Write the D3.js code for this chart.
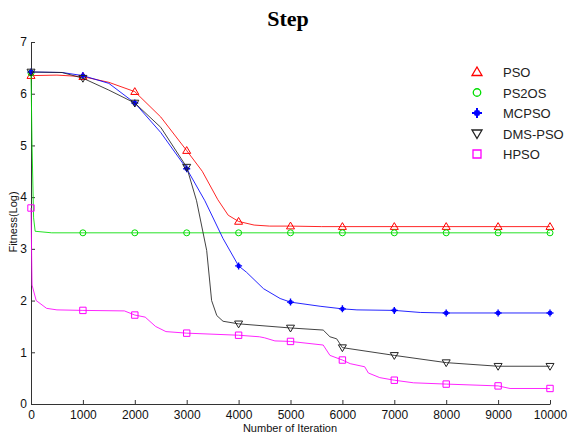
<!DOCTYPE html>
<html>
<head>
<meta charset="utf-8">
<title>Step</title>
<script src="https://d3js.org/d3.v7.min.js"></script>
<style>
  body { margin: 0; background: #fff; }
  text { font-family: "Liberation Sans", Arial, sans-serif; }
</style>
</head>
<body>
<script>

// iteration values (x) and fitness (log) values
var psoX  = [0, 500, 1000, 1500, 2000, 2500, 3000, 3300, 3600, 3800, 4000, 4300, 4600, 5000, 5600, 6000, 7000, 8000, 9000, 10000];
var psoY  = [6.35, 6.36, 6.33, 6.22, 6.04, 5.55, 4.9, 4.5, 3.95, 3.65, 3.53, 3.46, 3.44, 3.44, 3.43, 3.43, 3.43, 3.43, 3.43, 3.43];

var ps2osX = [0, 20, 50, 80, 400, 1000, 2000, 3000, 4000, 5000, 6000, 7000, 8000, 9000, 10000];
var ps2osY = [6.4, 5.0, 3.6, 3.34, 3.31, 3.31, 3.31, 3.31, 3.31, 3.31, 3.31, 3.31, 3.31, 3.31, 3.31];

var mcpsoX = [0, 600, 1000, 1500, 2000, 2500, 3000, 3350, 3700, 4000, 4150, 4480, 4800, 5000, 5570, 6000, 6280, 7000, 7500, 8000, 9000, 10000];
var mcpsoY = [6.42, 6.41, 6.35, 6.2, 5.82, 5.25, 4.55, 3.93, 3.2, 2.67, 2.55, 2.23, 2.04, 1.97, 1.89, 1.84, 1.82, 1.81, 1.77, 1.76, 1.76, 1.76];

var dmsX = [0, 600, 1000, 1500, 2000, 2500, 3000, 3190, 3385, 3480, 3580, 3700, 4000, 5000, 5630, 5760, 5890, 6000, 7000, 8000, 9000, 10000];
var dmsY = [6.42, 6.41, 6.3, 6.07, 5.82, 5.35, 4.58, 3.93, 2.97, 2.0, 1.71, 1.6, 1.55, 1.47, 1.43, 1.3, 1.26, 1.09, 0.94, 0.8, 0.73, 0.73];

var hpsoX = [0, 20, 100, 300, 500, 1000, 1800, 2000, 2200, 2400, 2600, 3000, 4000, 4400, 4500, 4700, 5000, 5630, 5760, 6000, 6150, 6430, 6500, 6720, 7000, 7370, 8000, 9000, 9230, 10000];
var hpsoY = [3.79, 2.3, 2.0, 1.85, 1.82, 1.81, 1.8, 1.72, 1.68, 1.5, 1.4, 1.37, 1.33, 1.3, 1.28, 1.22, 1.21, 1.14, 0.94, 0.85, 0.78, 0.72, 0.6, 0.51, 0.46, 0.41, 0.385, 0.35, 0.3, 0.3];

var seriesNames  = ["PSO", "PS2OS", "MCPSO", "DMS-PSO", "HPSO"];
var seriesColors = ["#ff0000", "#00dd00", "#0000ff", "#222222", "#ff00ff"];
var seriesShapes = ["triangleUp", "circle", "star", "triangleDown", "square"];
var xTicks = [0, 1000, 2000, 3000, 4000, 5000, 6000, 7000, 8000, 9000, 10000];
var yTicks = [0, 1, 2, 3, 4, 5, 6, 7];

var allX = [psoX, ps2osX, mcpsoX, dmsX, hpsoX];
var allY = [psoY, ps2osY, mcpsoY, dmsY, hpsoY];

var width = 577,
    height = 435,
    margin = {top: 42, right: 27, bottom: 31, left: 31};

var svg = d3.select("body")
  .append("svg")
  .attr("width", width)
  .attr("height", height);

var x = d3.scaleLinear().domain([0, 10000]).range([margin.left, width - margin.right]);
var y = d3.scaleLinear().domain([0, 7]).range([height - margin.bottom, margin.top]);

// axes, matlab style ticks pointing inwards
var xAxis = svg.append("g")
  .attr("transform", "translate(0," + y(0) + ")")
  .call(d3.axisBottom(x).tickValues(xTicks).tickSizeInner(-4).tickSizeOuter(0).tickPadding(6).tickFormat(d3.format("d")));

var yAxis = svg.append("g")
  .attr("transform", "translate(" + x(0) + ",0)")
  .call(d3.axisLeft(y).tickValues(yTicks).tickSizeInner(-4).tickSizeOuter(0).tickPadding(4).tickFormat(d3.format("d")));

[xAxis, yAxis].forEach(function(a) {
  a.select(".domain").attr("stroke", "#333");
  a.selectAll(".tick line").attr("stroke", "#333");
  a.selectAll("text")
    .attr("fill", "#111")
    .style("font-family", "'Liberation Sans', Arial, sans-serif")
    .style("font-size", "12px");
});

var line = d3.line()
  .x(function(d) { return x(d[0]); })
  .y(function(d) { return y(d[1]); });

function symbolPath(shape, s) {
  if (shape == "triangleUp") return "M0," + (-s) + "L" + s + "," + (s * 0.7) + "L" + (-s) + "," + (s * 0.7) + "Z";
  if (shape == "triangleDown") return "M0," + s + "L" + s + "," + (-s * 0.7) + "L" + (-s) + "," + (-s * 0.7) + "Z";
  if (shape == "square") return "M" + (-s * 0.8) + "," + (-s * 0.8) + "h" + (s * 1.6) + "v" + (s * 1.6) + "h" + (-s * 1.6) + "Z";
  if (shape == "circle") return "M" + (-s * 0.75) + ",0a" + (s * 0.75) + "," + (s * 0.75) + " 0 1,0 " + (s * 1.5) + ",0a" + (s * 0.75) + "," + (s * 0.75) + " 0 1,0 " + (-s * 1.5) + ",0";
  // star: plus and cross
  var a = s * 0.8;
  return "M0," + (-s) + "V" + s + "M" + (-s) + ",0H" + s +
         "M" + (-a * 0.6) + "," + (-a * 0.6) + "L" + (a * 0.6) + "," + (a * 0.6) +
         "M" + (a * 0.6) + "," + (-a * 0.6) + "L" + (-a * 0.6) + "," + (a * 0.6);
}

var plot = svg.append("g");

seriesNames.forEach(function(name, i) {
  var pts = allX[i].map(function(v, j) { return [v, allY[i][j]]; });
  plot.append("path")
    .datum(pts)
    .attr("fill", "none")
    .attr("stroke", seriesColors[i])
    .attr("stroke-width", 1)
    .attr("stroke-opacity", 0.85)
    .attr("d", line);

  plot.selectAll(".m" + i)
    .data(pts.filter(function(d) { return d[0] % 1000 === 0; }))
    .enter()
    .append("path")
    .attr("class", "m" + i)
    .attr("transform", function(d) { return "translate(" + x(d[0]) + "," + y(d[1]) + ")"; })
    .attr("d", symbolPath(seriesShapes[i], seriesShapes[i] == "star" ? 3.5 : 4))
    .attr("fill", "none")
    .attr("stroke", seriesColors[i])
    .attr("stroke-width", seriesShapes[i] == "star" ? 1.4 : 1);
});

// legend
var legend = svg.append("g").attr("transform", "translate(477,72)");
seriesNames.forEach(function(name, i) {
  var g = legend.append("g").attr("transform", "translate(0," + (i * 20.5) + ")");
  g.append("path")
    .attr("d", symbolPath(seriesShapes[i], 5))
    .attr("fill", "none")
    .attr("stroke", seriesColors[i])
    .attr("stroke-width", seriesShapes[i] == "star" ? 2 : 1.3);
  g.append("text")
    .attr("x", 26)
    .attr("y", 5)
    .attr("fill", "#222")
    .style("font-size", "13px")
    .text(name);
});

// title and axis labels
svg.append("text")
  .attr("x", 288)
  .attr("y", 26)
  .attr("text-anchor", "middle")
  .style("font-family", "'Liberation Serif', 'Times New Roman', serif")
  .style("font-weight", "bold")
  .style("font-size", "22px")
  .text("Step");

svg.append("text")
  .attr("x", 290)
  .attr("y", 432)
  .attr("text-anchor", "middle")
  .attr("fill", "#111")
  .style("font-size", "11px")
  .text("Number of Iteration");

svg.append("text")
  .attr("transform", "translate(17,222)rotate(-90)")
  .attr("text-anchor", "middle")
  .attr("fill", "#111")
  .style("font-size", "11px")
  .text("Fitness(Log)");

</script>
</body>
</html>
